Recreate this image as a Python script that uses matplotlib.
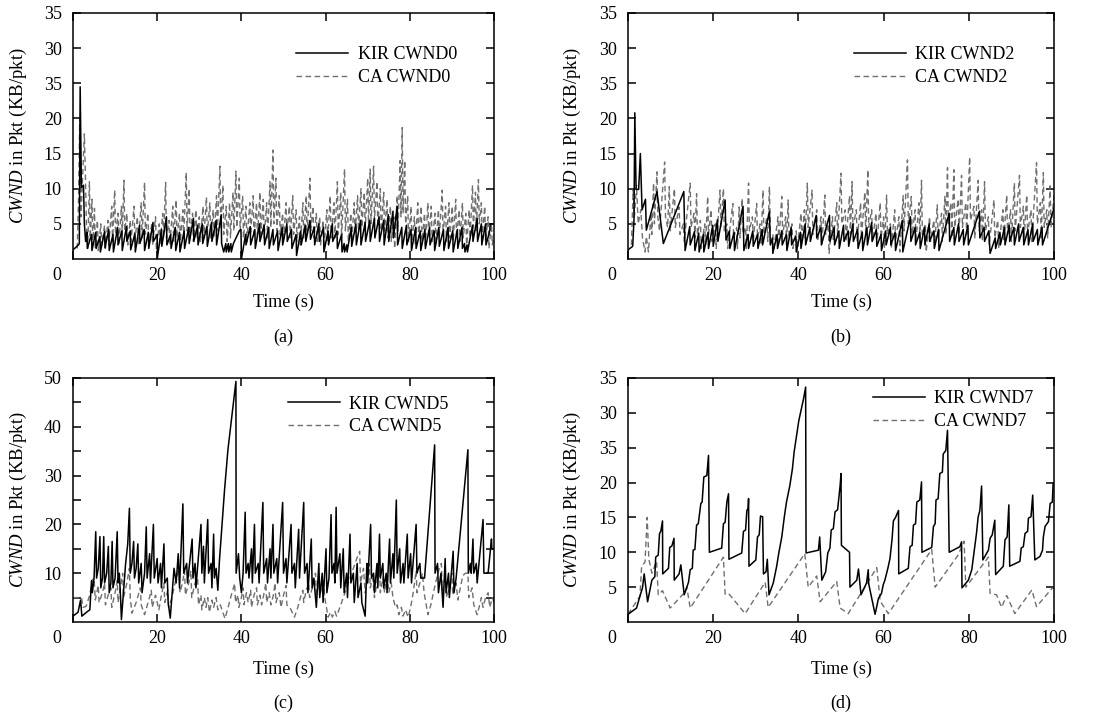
import numpy as np
import matplotlib
matplotlib.use('Agg')
import matplotlib.pyplot as plt

plt.rcParams['font.family'] = ['Liberation Serif', 'DejaVu Serif']
plt.rcParams['mathtext.fontset'] = 'custom'
plt.rcParams['mathtext.it'] = 'Liberation Serif:italic'
plt.rcParams['mathtext.rm'] = 'Liberation Serif'

# ---------------- data (time s, cwnd) ----------------
kir_cwnd0 = [(0,1.3),(1.3,2.0),(1.5,2.2),(1.7,24.5),(2.0,10.2),(2.5,10.5),(2.7,5.0),(3.0,2.5),
 (3.3,3.8),(3.4,1.5),(4.4,3.5),(4.5,1.2),(5.4,3.8),(5.5,1.5),(6.4,3.2),(6.5,1.0),(7.5,3.9),(7.6,1.6),
 (8.5,4.2),(8.6,1.2),(9.5,3.5),(9.6,1.0),(10.6,4.5),(10.7,2.0),(11.6,4.0),(11.7,1.2),(12.7,4.6),(12.8,2.5),
 (13.6,4.0),(13.7,1.3),(14.7,3.6),(14.8,1.0),(15.8,4.8),(15.9,2.2),(16.9,4.2),(17.0,1.2),(17.9,3.8),(18.0,1.5),
 (19.0,5.2),(19.1,2.5),(20.0,3.5),(20.05,0.2),(21.0,4.2),(21.1,1.8),(22.2,6.0),(22.3,2.0),(23.2,3.5),(23.3,1.5),
 (24.3,4.5),(24.4,1.2),(25.3,3.8),(25.4,1.0),(26.4,4.0),(26.5,1.5),(27.5,4.5),(27.6,2.2),(28.6,5.8),(28.7,2.5),
 (29.6,4.8),(29.7,2.0),(30.7,5.0),(30.8,2.2),(31.8,4.6),(31.9,1.8),(32.9,5.2),(33.0,2.5),(34.0,5.5),(34.1,2.0),
 (35.2,6.3),(35.3,2.2),(35.8,1.0),(36.3,2.2),(36.4,1.0),(36.9,2.2),(37.0,1.0),(37.5,2.2),(37.6,1.0),
 (38.1,2.2),(39.5,4.0),(39.9,4.2),(40.0,0.0),(41.0,3.5),(41.1,2.0),(42.1,4.6),(42.2,2.0),
 (43.2,4.2),(43.3,1.5),(44.3,5.0),(44.4,2.5),(45.4,4.8),(45.5,2.0),(46.5,4.5),(46.6,1.5),(47.5,4.2),(47.6,2.0),
 (48.6,4.0),(48.7,1.2),(49.7,4.5),(49.8,2.0),(50.8,5.0),(50.9,2.5),(51.9,4.2),(52.0,1.5),(53.0,3.5),(53.1,0.5),
 (54.1,4.0),(54.2,2.0),(55.2,4.8),(55.3,2.5),(56.3,5.5),(56.4,2.8),(57.3,4.5),(57.4,2.0),(58.4,5.0),(58.5,2.5),
 (59.5,4.5),(59.6,1.0),(60.6,4.0),(60.7,2.0),(61.6,5.0),(61.7,2.5),(62.7,4.0),(62.8,1.5),(63.8,3.5),(63.9,1.0),
 (64.4,2.2),(64.5,1.0),(65.0,2.0),(65.1,1.0),(66.1,4.5),(66.2,1.8),(67.2,5.0),(67.3,2.0),
 (68.3,5.5),(68.4,2.0),(69.4,5.2),(69.5,2.5),(70.5,5.5),(70.6,2.5),(71.6,5.8),(71.7,3.0),(72.7,6.0),(72.8,2.5),
 (73.8,5.5),(73.9,2.0),(74.9,6.3),(75.0,2.5),(76.0,6.8),(76.1,3.0),(77.0,7.5),(77.1,2.0),(78.1,4.5),(78.2,1.5),
 (79.2,4.8),(79.3,2.0),(80.3,4.2),(80.4,1.2),(81.4,4.5),(81.5,1.5),(82.5,4.0),(82.6,1.2),(83.6,4.2),(83.7,1.5),
 (84.7,4.5),(84.8,2.0),(85.8,4.0),(85.9,1.2),(86.9,4.5),(87.0,1.8),(88.0,4.2),(88.1,1.2),(89.1,4.5),(89.2,1.5),
 (90.2,4.0),(90.3,1.0),(91.3,4.2),(91.4,1.5),(92.4,4.5),(92.5,1.5),(93.0,2.2),(93.1,1.0),(93.6,2.0),(93.7,1.0),
 (94.9,4.8),(95.0,2.5),(96.0,5.8),(96.1,2.5),(97.0,5.0),(97.1,2.0),(98.0,5.0),(98.1,2.0),(99.0,4.0),(99.1,5.0),(100,5.0)]

ca_cwnd0 = [(1.0,1.5),(1.3,8.0),(1.6,20.0),(1.9,6.0),(2.7,17.8),(3.0,10.5),(3.2,4.5),(3.5,1.5),(3.9,11.0),(4.1,3.0),
 (4.5,8.5),(4.7,2.0),(5.1,7.2),(5.3,1.5),(5.8,5.5),(6.0,1.2),(6.6,5.0),(6.8,2.0),(7.5,4.8),(7.7,1.5),(8.3,5.5),
 (8.5,2.0),(9.2,7.5),(9.4,2.5),(9.9,9.8),(10.1,3.5),(10.7,6.5),(10.9,2.0),(11.5,7.5),(11.7,3.5),(12.1,11.2),
 (12.3,4.0),(12.8,6.5),(13.0,2.0),(13.6,5.5),(13.8,2.5),(14.5,7.5),(14.7,2.5),(15.3,6.0),(15.5,2.0),(16.2,8.0),
 (16.4,3.0),(17.0,10.9),(17.2,3.5),(17.8,6.5),(18.0,2.0),(18.7,5.0),(18.9,2.0),(19.6,6.0),(19.8,1.5),(20.5,5.0),
 (20.7,2.0),(21.3,6.5),(21.5,3.0),(22.0,10.9),(22.2,3.0),(22.8,5.5),(23.0,2.0),(23.7,7.5),(23.9,2.5),(24.5,8.4),
 (24.7,3.0),(25.3,6.5),(25.5,2.5),(26.1,7.0),(26.3,3.0),(26.9,12.3),(27.1,4.0),(27.6,10.0),(27.8,3.5),(28.4,6.5),
 (28.6,2.5),(29.2,7.0),(29.4,3.0),(30.0,6.0),(30.2,2.5),(30.9,7.5),(31.1,3.0),(31.7,8.8),(31.9,3.5),(32.5,8.0),
 (32.7,3.0),(33.3,7.0),(33.5,3.0),(34.1,9.0),(34.3,4.0),(34.9,13.2),(35.1,4.5),(35.6,10.5),(35.8,3.5),(36.4,7.5),
 (36.6,2.5),(37.2,8.0),(37.4,3.0),(38.0,9.5),(38.2,4.0),(38.7,12.5),(38.9,4.5),(39.5,11.5),(39.7,4.0),(40.3,9.0),
 (40.5,3.0),(41.1,7.5),(41.3,2.5),(42.0,8.0),(42.2,3.5),(42.8,9.0),(43.0,3.0),(43.6,8.0),(43.8,3.0),(44.4,9.5),
 (44.6,3.5),(45.2,8.5),(45.4,3.0),(46.0,8.0),(46.2,3.0),(46.8,11.0),(47.0,4.5),(47.5,15.5),(47.7,5.0),(48.2,11.5),
 (48.4,4.0),(49.0,9.0),(49.2,3.5),(49.8,6.5),(50.0,2.5),(50.6,8.0),(50.8,3.5),(51.4,7.5),(51.6,3.0),(52.2,9.0),
 (52.4,3.5),(53.0,7.0),(53.2,2.5),(53.8,6.0),(54.0,2.0),(54.6,8.0),(54.8,3.0),(55.4,9.0),(55.6,3.5),(56.3,11.5),
 (56.5,4.0),(57.0,7.5),(57.2,3.0),(57.8,6.5),(58.0,2.5),(58.6,6.0),(58.8,2.0),(59.4,5.5),(59.6,1.5),(60.3,7.0),
 (60.5,2.5),(61.1,9.0),(61.3,3.0),(62.0,8.0),(62.2,3.0),(62.8,11.0),(63.0,3.5),(63.6,9.5),(63.8,3.0),(64.5,12.8),
 (64.7,4.0),(65.2,8.5),(65.4,2.5),(66.0,6.5),(66.2,2.5),(66.8,8.0),(67.0,3.5),(67.6,9.0),(67.8,4.0),(68.4,10.0),
 (68.6,4.5),(69.2,9.5),(69.4,4.0),(70.0,11.5),(70.2,5.0),(70.6,12.8),(70.8,5.0),(71.4,13.2),(71.6,5.5),(72.2,11.0),
 (72.4,4.5),(73.0,10.0),(73.2,4.0),(73.8,9.5),(74.0,4.0),(74.6,8.5),(74.8,3.0),(75.4,7.5),(75.6,2.5),(76.2,6.0),
 (76.4,1.5),(77.0,9.0),(77.2,4.0),(77.7,14.0),(77.9,6.0),(78.2,18.7),(78.4,6.5),(78.8,14.0),(79.0,5.0),(79.5,9.0),
 (79.7,2.5),(80.3,7.5),(80.5,2.5),(81.1,6.0),(81.3,2.0),(81.9,8.0),(82.1,3.0),(82.7,7.5),(82.9,2.5),(83.5,6.5),
 (83.7,2.0),(84.3,8.0),(84.5,3.0),(85.1,7.5),(85.3,2.5),(86.0,6.5),(86.2,2.0),(86.8,7.0),(87.0,3.0),(87.7,9.8),
 (87.9,3.5),(88.5,7.5),(88.7,2.5),(89.3,8.0),(89.5,3.0),(90.1,7.5),(90.3,2.5),(90.9,8.5),(91.1,3.0),(91.7,7.0),
 (91.9,2.5),(92.5,8.0),(92.7,3.0),(93.3,6.5),(93.5,2.0),(94.1,7.0),(94.3,3.0),(94.9,10.5),(95.1,4.5),(95.6,9.5),
 (95.8,4.0),(96.3,11.3),(96.5,5.0),(97.0,8.0),(97.2,3.0),(97.8,7.5),(98.0,2.5),(98.6,6.0),(98.8,1.5),(99.4,5.0),
 (99.6,2.0),(100,3.5)]

kir_cwnd2 = [(0,1.3),(1.1,1.8),(1.4,5.5),(1.6,20.8),(1.9,9.9),(2.5,9.9),(2.9,15.0),(3.3,7.0),(4.1,8.5),(4.3,4.1),
 (6.8,9.6),(8.3,2.2),(13.1,9.6),(13.4,1.2),(14.5,4.6),(14.6,2.0),(15.6,3.9),(15.7,1.2),(16.6,3.7),(16.7,1.0),
 (17.7,3.5),(17.8,1.0),(18.8,3.8),(18.9,1.5),(19.9,4.8),(20.0,1.8),(21.0,5.6),(21.1,2.5),(22.8,8.4),(23.0,2.7),
 (23.8,4.0),(23.9,1.5),(24.9,3.8),(25.0,1.2),(27.0,7.5),(27.2,1.2),(28.2,3.5),(28.3,1.5),(29.3,4.0),(29.4,1.8),
 (30.4,3.5),(30.5,1.5),(31.5,4.2),(31.6,2.0),(33.2,6.8),(33.4,2.0),(33.9,3.0),(34.0,0.8),(35.0,3.5),(35.1,1.5),
 (36.1,4.0),(36.2,2.0),(37.2,3.5),(37.3,1.2),(38.3,4.5),(38.4,2.0),(39.4,3.2),(39.5,1.0),(40.5,3.8),(40.6,1.5),
 (41.6,5.0),(41.7,2.0),(42.7,4.5),(42.8,2.5),(44.2,6.2),(44.3,3.0),(45.3,4.5),(45.4,2.0),(47.3,6.2),(47.4,2.5),
 (48.4,4.5),(48.5,2.0),(49.5,4.0),(49.6,1.5),(50.6,4.8),(50.7,2.5),(51.7,4.0),(51.8,1.8),(52.8,5.0),(52.9,2.5),
 (53.9,4.2),(54.0,1.5),(55.0,3.8),(55.1,1.2),(56.1,4.5),(56.2,2.0),(57.2,5.2),(57.3,2.5),(58.3,4.2),(58.4,1.8),
 (59.4,3.5),(59.5,1.2),(60.5,4.0),(60.6,2.0),(61.6,4.5),(61.7,2.0),(62.7,3.8),(62.8,1.2),(64.4,5.5),(64.5,1.0),
 (66.3,6.0),(66.4,2.5),(67.4,4.5),(67.5,2.0),(68.5,3.8),(68.6,1.5),(69.6,4.5),(69.7,2.0),(70.7,5.0),(70.8,2.5),
 (71.8,4.0),(71.9,1.5),(72.9,4.2),(73.0,1.2),(75.4,6.5),(75.5,2.5),(76.5,4.5),(76.6,2.0),(77.6,5.0),(77.7,2.5),
 (78.7,4.2),(78.8,2.0),(79.8,4.8),(79.9,2.0),(82.5,6.8),(82.6,3.0),(83.6,4.5),(83.7,2.5),(84.7,4.0),(85.0,0.8),
 (86.2,3.0),(86.3,1.5),(87.3,3.8),(87.4,2.0),(88.4,4.5),(88.5,2.0),(89.5,4.8),(89.6,2.5),(90.6,4.5),(90.7,2.0),
 (91.7,5.0),(91.8,2.5),(92.8,4.5),(92.9,2.0),(93.9,4.2),(94.0,2.0),(95.0,5.0),(95.1,2.5),(96.1,4.2),(96.2,2.0),
 (97.2,4.5),(97.3,2.0),(100,7.2)]

ca_cwnd2 = [(0.8,2.0),(1.2,9.8),(1.5,6.0),(2.0,10.5),(2.4,5.0),(3.0,7.0),(3.4,3.0),(4.0,1.0),(4.3,3.2),(4.8,1.0),
 (5.4,6.5),(5.6,3.5),(6.0,10.8),(6.2,5.0),(6.8,12.4),(7.0,6.0),(7.4,4.0),(8.6,13.8),(8.8,6.0),(9.3,4.5),(9.7,10.3),
 (9.9,4.0),(10.9,10.0),(11.1,4.5),(12.0,7.4),(12.2,3.5),(13.0,5.0),(13.2,2.5),(14.6,10.8),(14.8,4.5),(15.5,6.5),
 (15.7,3.0),(16.1,9.3),(16.3,3.5),(17.0,5.5),(17.2,1.5),(18.0,5.0),(18.2,2.0),(18.7,8.9),(18.9,3.5),(19.5,7.0),
 (19.7,2.5),(20.5,5.0),(20.7,1.5),(21.6,9.8),(21.8,4.5),(22.4,10.0),(22.6,4.0),(23.2,5.0),(23.4,1.5),(24.6,7.9),
 (24.8,3.0),(25.5,4.5),(25.7,1.5),(26.1,7.4),(26.3,3.0),(26.8,8.6),(27.0,3.5),(27.6,4.5),(27.8,1.5),(28.3,10.8),
 (28.5,4.0),(29.2,6.0),(29.4,2.5),(30.2,7.9),(30.4,3.0),(31.0,5.0),(31.2,2.0),(31.7,9.8),(31.9,3.5),(32.6,6.0),
 (32.8,2.5),(33.2,10.3),(33.4,4.0),(34.0,3.5),(34.2,1.2),(35.2,6.0),(35.4,2.5),(36.1,8.9),(36.3,3.5),(37.0,6.0),
 (37.2,2.0),(37.6,8.4),(37.8,3.0),(38.5,5.0),(38.7,1.5),(39.5,4.0),(39.7,1.0),(40.6,6.5),(40.8,2.5),(41.4,7.0),
 (41.6,3.0),(42.1,10.8),(42.3,4.5),(43.2,9.8),(43.4,3.5),(44.3,7.0),(44.5,2.5),(45.3,6.0),(45.5,2.0),(46.2,9.1),
 (46.4,3.5),(47.0,5.0),(47.2,0.8),(48.0,6.0),(48.2,2.5),(49.0,8.0),(49.2,3.0),(50.0,12.2),(50.2,5.0),(51.0,7.0),
 (51.2,2.5),(52.0,9.0),(52.2,3.5),(52.6,11.0),(52.8,4.5),(53.6,7.0),(53.8,2.5),(54.6,8.0),(54.8,3.0),(55.6,9.5),
 (55.8,3.5),(56.3,12.7),(56.5,4.5),(57.2,7.0),(57.4,2.5),(58.2,6.5),(58.4,2.0),(59.2,8.0),(59.4,3.0),(60.0,6.0),
 (60.2,1.5),(60.7,9.1),(60.9,3.5),(61.6,5.0),(61.8,1.5),(62.6,7.0),(62.8,2.5),(63.6,6.0),(63.8,1.0),(64.6,9.0),
 (64.8,4.0),(65.6,14.1),(65.8,5.0),(66.5,8.9),(66.7,3.5),(67.4,7.0),(67.6,2.5),(68.3,8.0),(68.5,3.0),(68.9,11.2),
 (69.1,3.5),(69.8,5.0),(70.0,1.0),(70.8,6.0),(71.0,2.5),(71.8,5.5),(72.0,2.0),(72.6,7.7),(72.8,3.0),(73.6,6.5),
 (73.8,2.5),(74.4,9.0),(74.6,3.5),(75.0,13.0),(75.2,5.0),(75.8,8.0),(76.0,3.0),(76.5,12.7),(76.7,4.5),(77.5,8.5),
 (77.7,3.5),(78.3,11.9),(78.5,4.5),(79.3,8.0),(79.5,3.5),(80.2,14.5),(80.4,5.5),(81.2,7.5),(81.4,3.0),(82.2,11.2),
 (82.4,4.0),(83.0,7.0),(83.2,2.5),(83.7,11.0),(83.9,4.0),(84.6,6.0),(84.8,2.0),(85.9,8.4),(86.1,3.0),(86.8,5.5),
 (87.0,1.5),(88.0,7.0),(88.2,2.5),(88.9,9.1),(89.1,3.5),(89.8,7.0),(90.0,2.5),(90.7,10.8),(90.9,4.0),(91.9,11.9),
 (92.1,4.5),(92.8,7.5),(93.0,3.0),(93.6,9.1),(93.8,3.5),(94.6,7.0),(94.8,2.5),(95.9,13.7),(96.1,5.0),(96.8,8.0),
 (97.0,3.0),(97.5,12.3),(97.7,4.5),(98.3,7.0),(98.5,3.0),(99.1,10.4),(99.3,4.5),(100,9.0)]

kir_cwnd5 = [(0,1.2),(1.2,2.0),(1.8,4.5),(2.1,1.2),(3.5,2.2),(4.0,2.5),(4.4,8.5),(4.6,6.0),(5.0,9.0),(5.4,18.5),
 (5.6,9.0),(6.0,11.0),(6.4,17.5),(6.6,7.0),(7.0,9.0),(7.3,17.5),(7.5,8.0),(8.0,10.0),(8.4,15.5),(8.6,6.0),(9.0,8.0),
 (9.3,16.5),(9.5,7.0),(10.0,9.0),(10.5,18.5),(10.7,8.0),(11.0,10.0),(11.3,5.0),(11.5,0.5),(12.5,12.0),(13.0,16.0),
 (13.4,23.3),(13.6,10.0),(14.0,12.0),(14.4,16.5),(14.6,9.0),(15.0,11.0),(15.4,16.0),(15.6,8.0),(16.2,12.0),
 (16.4,6.0),(17.0,10.0),(17.4,19.5),(17.6,9.0),(18.2,14.0),(18.4,8.0),(19.1,20.0),(19.3,9.0),(20.0,13.0),(20.2,8.0),
 (20.8,12.0),(21.0,7.0),(21.6,16.0),(21.8,8.0),(22.4,9.0),(22.6,4.0),(23.1,0.8),(24.0,11.0),(24.5,8.0),(25.0,14.0),
 (25.3,7.0),(26.1,24.2),(26.3,10.0),(27.0,12.0),(27.2,8.0),(28.3,17.0),(28.5,9.0),(29.0,12.0),(29.2,7.0),(30.4,20.0),
 (30.6,10.0),(31.0,15.5),(31.2,8.0),(32.0,21.0),(32.2,10.0),(32.8,12.0),(33.0,7.0),(33.4,18.0),(33.6,9.0),(34.0,11.0),
 (34.4,6.5),(34.8,12.8),(36.0,27.1),(36.8,35.3),(38.7,49.3),(38.75,10.0),(39.3,14.0),(39.6,9.0),(40.0,6.0),(40.4,10.0),
 (40.9,22.5),(41.1,10.0),(41.6,12.0),(41.8,9.0),(42.4,15.0),(42.6,8.0),(43.1,20.0),(43.3,10.0),(44.0,12.0),(44.2,8.0),
 (45.1,24.5),(45.3,10.0),(46.0,13.0),(46.2,8.0),(46.8,15.0),(47.0,9.0),(47.5,20.0),(47.7,10.0),(48.4,13.0),(48.6,8.0),
 (49.8,24.5),(50.0,10.0),(50.6,13.0),(50.8,8.0),(51.8,20.0),(52.0,10.0),(52.6,12.0),(52.8,7.0),(53.6,19.0),(53.8,9.0),
 (54.8,24.5),(55.0,10.0),(55.6,12.0),(55.8,6.0),(56.6,17.0),(56.8,7.0),(57.2,9.0),(57.8,3.0),(58.4,12.0),(58.6,5.0),
 (59.2,10.0),(59.4,4.0),(60.1,15.0),(60.3,6.0),(60.8,9.0),(61.3,22.0),(61.5,10.0),(62.0,12.0),(62.2,8.0),(62.5,23.5),
 (62.7,10.0),(63.4,14.0),(63.6,7.0),(64.2,15.0),(64.4,6.0),(65.0,10.0),(65.2,5.0),(65.8,18.0),(66.0,8.0),(66.6,10.0),
 (66.8,4.0),(67.5,12.0),(67.7,5.0),(68.4,8.0),(68.6,4.0),(69.4,1.2),(69.8,12.0),(70.0,8.0),(70.7,20.0),(70.9,9.0),
 (71.4,10.0),(71.6,6.0),(72.2,12.0),(72.4,7.0),(72.8,18.0),(73.0,9.0),(73.6,12.0),(73.8,7.0),(74.4,10.0),(74.6,6.0),
 (75.2,17.0),(75.4,8.0),(76.0,14.0),(76.2,9.0),(76.8,25.0),(77.0,10.0),(77.6,15.0),(77.8,8.0),(78.4,12.0),(78.6,8.0),
 (79.4,18.0),(79.6,9.0),(80.2,14.0),(80.4,8.0),(81.5,20.0),(81.7,10.0),(82.4,12.0),(82.6,9.0),(83.5,9.0),(85.9,36.3),
 (86.0,10.0),(86.6,12.0),(86.8,6.0),(87.4,10.0),(87.9,3.0),(88.4,13.0),(88.6,6.0),(89.2,10.0),(89.4,5.0),(90.3,14.5),
 (90.5,6.0),(91.0,9.0),(93.8,35.3),(93.9,10.0),(94.4,12.0),(94.6,10.0),(95.0,17.0),(95.2,10.0),(95.8,12.0),(96.0,8.0),
 (97.4,21.0),(97.6,10.0),(98.6,10.0),(99.4,17.0),(99.5,15.0),(100,15.0)]

ca_cwnd5 = [(0,5.0),(2.0,5.0),(2.4,3.0),(3.1,3.2),(3.9,5.3),(4.7,8.7),(5.0,9.0),(5.3,4.5),(6.0,7.5),(6.2,4.0),(7.0,6.0),
 (7.5,8.0),(7.7,3.5),(8.5,6.0),(9.0,7.0),(9.2,3.0),(10.0,6.0),(10.5,8.5),(10.7,4.0),(11.8,10.0),(12.0,5.0),(12.8,8.0),
 (13.4,11.0),(13.6,5.0),(14.0,1.8),(15.0,4.0),(16.0,7.0),(16.2,3.5),(17.0,1.5),(18.0,4.5),(18.6,6.5),(18.8,3.0),
 (19.6,5.5),(20.0,4.0),(20.4,2.5),(21.0,5.5),(21.6,8.0),(21.8,4.0),(22.5,6.5),(22.7,3.0),(23.5,5.0),(24.0,7.0),
 (24.5,9.0),(25.2,11.0),(25.4,6.0),(26.0,8.0),(26.5,10.5),(26.7,5.5),(27.5,8.0),(28.0,10.5),(28.2,5.0),(29.0,8.0),
 (29.6,9.0),(29.8,3.5),(30.4,5.5),(30.6,2.5),(31.2,5.0),(31.6,3.0),(32.0,5.0),(32.4,2.0),(33.0,4.5),(33.4,3.0),
 (34.0,5.0),(34.4,2.5),(35.0,3.5),(36.1,0.7),(37.0,3.5),(37.6,5.5),(38.4,7.9),(38.6,4.0),(39.2,5.5),(39.4,3.0),
 (40.0,5.0),(40.4,7.0),(40.6,3.5),(41.2,6.0),(41.6,4.0),(42.2,6.5),(42.4,3.0),(43.0,5.5),(43.6,7.0),(43.8,3.5),
 (44.4,5.5),(44.8,3.5),(45.4,6.0),(45.8,8.0),(46.0,4.0),(46.6,6.0),(47.0,3.5),(47.6,5.5),(48.0,8.0),(48.2,4.0),
 (49.0,6.0),(49.4,3.0),(50.0,5.5),(50.6,7.5),(50.8,3.5),(51.5,3.0),(52.6,1.0),(53.4,3.0),(54.0,5.0),(54.6,6.5),
 (54.8,4.0),(55.4,6.5),(56.0,8.0),(56.2,5.0),(57.0,7.5),(57.6,10.0),(57.8,5.5),(58.4,8.0),(58.8,6.0),(59.4,9.0),
 (59.8,5.0),(60.2,3.0),(60.6,1.0),(61.2,2.0),(61.6,1.0),(62.2,2.2),(62.6,1.2),(63.4,3.0),(64.2,5.0),(65.0,7.0),
 (65.8,9.0),(66.6,11.0),(67.4,13.0),(68.1,14.5),(68.3,8.0),(69.0,11.0),(69.4,6.0),(70.0,9.0),(70.4,12.0),(70.6,7.0),
 (71.2,9.0),(71.6,5.0),(72.2,8.0),(72.8,11.0),(73.0,6.0),(73.6,9.0),(74.0,6.0),(74.6,10.0),(75.0,6.0),(75.6,8.0),
 (76.0,5.0),(76.6,3.0),(77.0,3.5),(77.4,1.5),(78.0,3.0),(78.4,1.2),(79.0,2.5),(79.6,1.0),(80.2,3.0),(80.8,6.0),
 (81.5,10.5),(81.7,6.0),(82.4,8.0),(83.0,10.0),(83.4,6.0),(84.3,1.5),(85.0,3.5),(85.6,6.0),(86.4,9.0),(87.0,11.0),
 (87.5,12.0),(87.7,6.5),(88.4,9.0),(88.8,5.0),(89.6,8.0),(90.0,10.0),(90.2,5.5),(91.0,8.0),(91.4,4.5),(92.0,7.0),
 (92.6,9.5),(93.2,10.0),(93.8,10.0),(94.0,5.0),(94.8,7.0),(95.2,3.5),(96.0,1.5),(96.6,3.5),(97.0,5.0),(97.4,3.0),
 (98.0,5.0),(98.6,6.0),(99.0,3.0),(99.6,5.0),(100,4.0)]

kir_cwnd7 = [(0,1.1),(2.0,2.0),(2.8,3.7),(3.4,4.9),(3.8,6.9),(4.6,2.9),(5.6,6.0),(6.3,6.5),(6.5,9.3),(7.1,9.6),
 (7.4,12.7),(7.7,13.0),(8.1,14.5),(8.15,6.9),(9.5,7.7),(9.8,10.7),(10.3,10.9),(10.8,12.0),(10.85,6.0),(12.0,6.9),
 (12.4,8.2),(13.2,3.9),(14.2,5.7),(14.6,7.5),(15.1,7.7),(15.3,10.3),(15.7,10.4),(16.1,13.9),(16.5,14.1),(17.1,17.0),
 (17.4,17.2),(17.8,20.8),(18.5,21.0),(18.9,23.9),(19.1,10.0),(22.0,10.6),(22.4,14.1),(22.8,14.3),(23.2,17.2),
 (23.6,18.4),(23.7,9.0),(26.7,9.9),(27.1,13.0),(27.6,13.2),(27.9,16.0),(28.2,16.3),(28.3,17.7),(28.4,8.0),(30.0,8.9),
 (30.4,12.2),(30.8,12.5),(31.1,15.2),(31.6,15.1),(31.8,6.9),(32.4,7.2),(32.7,9.0),(33.1,3.9),(34.1,5.6),(34.9,8.0),
 (35.4,9.9),(36.1,12.2),(36.7,15.1),(37.2,17.2),(38.0,19.6),(38.6,22.0),(39.0,24.4),(39.6,26.8),(40.1,28.9),
 (40.6,30.3),(41.2,32.0),(41.7,33.7),(41.8,9.9),(44.7,10.3),(45.0,12.2),(45.5,6.0),(46.4,7.2),(46.9,9.9),(47.4,10.6),
 (47.7,13.2),(48.2,13.4),(48.6,15.8),(49.2,16.1),(49.8,19.6),(50.0,21.3),(50.1,11.0),(52.0,10.0),(52.1,5.0),
 (53.7,6.0),(54.1,7.6),(54.7,3.9),(56.0,5.6),(56.4,7.5),(56.5,5.5),(58.0,1.1),(58.8,3.4),(59.5,4.1),(59.9,5.3),
 (60.3,6.0),(61.0,7.7),(61.5,9.1),(62.0,12.0),(62.3,14.5),(62.8,15.0),(63.5,16.0),(63.55,6.9),(65.8,7.7),(66.2,10.8),
 (66.7,11.0),(67.0,13.9),(67.5,14.1),(67.8,17.2),(68.5,17.5),(68.9,20.1),(69.0,10.0),(71.3,10.7),(71.7,13.7),
 (72.1,14.1),(72.3,17.5),(72.8,17.7),(73.2,21.3),(73.8,21.5),(74.0,24.1),(74.6,24.6),(75.0,27.5),(75.4,10.0),
 (77.9,10.8),(78.3,11.5),(78.4,4.9),(79.9,6.0),(80.7,7.5),(81.1,9.4),(81.8,12.7),(82.2,15.1),(82.6,16.0),(83.0,19.5),
 (83.3,8.9),(84.6,10.3),(85.0,12.0),(85.5,12.5),(86.1,14.6),(86.3,6.8),(88.1,8.0),(88.5,11.8),(89.0,12.2),(89.4,16.8),
 (89.6,8.0),(92.0,8.7),(92.3,10.6),(92.8,10.8),(93.2,12.7),(93.8,13.0),(94.0,14.9),(94.6,15.1),(95.0,18.2),(95.5,8.9),
 (96.7,9.4),(97.3,10.3),(97.5,12.2),(97.9,13.7),(98.7,14.4),(99.1,17.0),(99.6,17.2),(99.8,19.9)]

ca_cwnd7 = [(0,1.1),(2.8,3.7),(3.2,8.0),(4.0,8.6),(4.5,15.0),(4.9,9.0),(5.6,7.0),(6.7,8.7),(7.1,3.9),(8.1,4.5),
 (9.9,2.0),(13.4,4.3),(13.8,5.0),(14.6,2.0),(22.4,9.3),(22.8,4.0),(23.6,4.1),(27.5,1.2),(32.2,5.7),(32.9,2.1),
 (41.5,9.8),(42.3,5.0),(44.3,6.6),(45.1,2.9),(49.0,5.8),(49.8,2.0),(51.7,1.2),(58.4,7.8),(59.2,3.0),(61.1,1.2),
 (71.3,10.4),(72.1,5.0),(77.5,9.6),(78.9,11.6),(79.3,5.0),(84.6,9.3),(85.0,4.1),(86.5,3.9),(87.7,2.1),(88.9,3.8),
 (90.8,1.2),(94.8,4.6),(95.9,2.2),(99.5,4.8),(100,4.9)]

panel_labels = ['(a)', '(b)', '(c)', '(d)']
legend_names = [('KIR CWND0', 'CA CWND0'), ('KIR CWND2', 'CA CWND2'),
                ('KIR CWND5', 'CA CWND5'), ('KIR CWND7', 'CA CWND7')]
x_ticks = [0, 20, 40, 60, 80, 100]
x_tick_labels = ['', '20', '40', '60', '80', '100']
y_ticks_35 = [5, 10, 15, 20, 25, 30, 35]
y_tick_labels_35 = ['5', '10', '15', '20', '35', '30', '35']
y_ticks_50 = [5, 10, 15, 20, 25, 30, 35, 40, 45, 50]
y_tick_labels_50 = ['', '10', '', '20', '', '30', '', '40', '', '50']

# ---------------- figure ----------------
W, H = 1110, 715
fig = plt.figure(figsize=(W / 100, H / 100), dpi=100)

boxes = [(73, 494, 13, 259), (628, 1054, 13, 259), (73, 494, 378, 622), (628, 1054, 378, 622)]
legend_anchor = [(0.53, 0.865), (0.53, 0.865), (0.51, 0.928), (0.575, 0.95)]
xlabel_y = [-0.14, -0.14, -0.16, -0.16]
caption_y = [337, 337, 703, 703]
series = [(kir_cwnd0, ca_cwnd0), (kir_cwnd2, ca_cwnd2), (kir_cwnd5, ca_cwnd5), (kir_cwnd7, ca_cwnd7)]

FS = 13
for i, (l, r, t, b) in enumerate(boxes):
    ax = fig.add_axes([l / W, 1 - b / H, (r - l) / W, (b - t) / H])
    kir, ca = series[i]
    kt, kv = zip(*kir)
    ct, cv = zip(*ca)
    ax.plot(ct, cv, color='#707070', lw=1.0, ls=(0, (4, 2.5)), label=legend_names[i][1], zorder=2)
    ax.plot(kt, kv, color='black', lw=1.1, label=legend_names[i][0], zorder=3)
    ax.set_xlim(0, 100)
    if i == 2:
        ax.set_ylim(0, 50)
        ax.set_yticks(y_ticks_50)
        ax.set_yticklabels(y_tick_labels_50)
    else:
        ax.set_ylim(0, 35)
        ax.set_yticks(y_ticks_35)
        ax.set_yticklabels(y_tick_labels_35)
    ax.set_xticks(x_ticks)
    ax.set_xticklabels(x_tick_labels)
    ax.tick_params(direction='in', length=6, width=1.1, top=True, right=True, labelsize=FS)
    ax.tick_params(axis='x', pad=6)
    ax.tick_params(axis='y', pad=8)
    for s in ax.spines.values():
        s.set_linewidth(1.1)
    ax.annotate('0', xy=(0, 0), xycoords='axes fraction', xytext=(-12, -6),
                textcoords='offset points', ha='center', va='top', fontsize=FS)
    ax.set_xlabel('Time (s)', fontsize=FS)
    ax.xaxis.set_label_coords(0.5, xlabel_y[i])
    ax.set_ylabel(r'$\mathit{CWND}$ in Pkt (KB/pkt)', fontsize=FS + 0.5)
    ax.yaxis.set_label_coords(-0.105, 0.5)
    handles, labels = ax.get_legend_handles_labels()
    ax.legend(handles[::-1], labels[::-1], loc='upper left', bbox_to_anchor=legend_anchor[i],
              frameon=False, fontsize=FS, handlelength=2.9, handletextpad=0.5,
              labelspacing=0.32, borderaxespad=0, borderpad=0)
    fig.text((l + r) / 2 / W, 1 - caption_y[i] / H, panel_labels[i], ha='center', va='center', fontsize=FS)

fig.savefig('out.png', dpi=100)
